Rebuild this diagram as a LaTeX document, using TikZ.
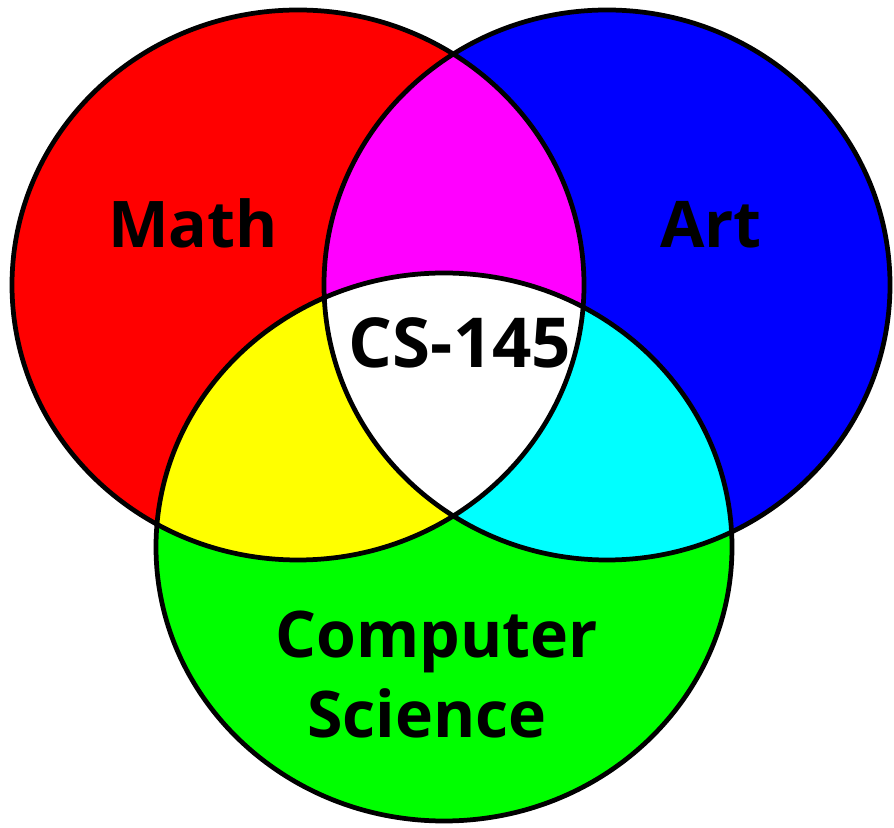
\documentclass[tikz,border=0pt]{standalone}
\usepackage{fontspec}
\setmainfont{Open Sans}
\begin{document}
\begin{tikzpicture}[x=0.01cm,y=-0.01cm]
\tikzset{
  lbl/.style={font=\fontsize{18.3}{20}\selectfont\bfseries, anchor=base, inner sep=0pt, text=black},
  biglbl/.style={lbl, font=\fontsize{19.6}{21}\selectfont\bfseries},
  outline/.style={draw=black, line width=1.35pt}
}
\definecolor{cred}{RGB}{255,0,0}
\definecolor{cblue}{RGB}{0,0,255}
\definecolor{cgreen}{RGB}{0,255,0}
\definecolor{cmag}{RGB}{255,0,255}
\definecolor{cyel}{RGB}{255,255,0}
\definecolor{ccyan}{RGB}{0,255,255}
\useasboundingbox (0,0) rectangle (894,828);
% base fills
\fill[cred] (298,285) ellipse [x radius=286, y radius=275];
\fill[cblue] (607,285) ellipse [x radius=283, y radius=275];
\fill[cgreen] (444,547) ellipse [x radius=288, y radius=274];
% red & blue
\begin{scope}
\clip (298,285) ellipse [x radius=286, y radius=275];
\fill[cmag] (607,285) ellipse [x radius=283, y radius=275];
\end{scope}
% red & green
\begin{scope}
\clip (298,285) ellipse [x radius=286, y radius=275];
\fill[cyel] (444,547) ellipse [x radius=288, y radius=274];
\end{scope}
% blue & green
\begin{scope}
\clip (607,285) ellipse [x radius=283, y radius=275];
\fill[ccyan] (444,547) ellipse [x radius=288, y radius=274];
\end{scope}
% all three
\begin{scope}
\clip (298,285) ellipse [x radius=286, y radius=275];
\clip (607,285) ellipse [x radius=283, y radius=275];
\fill[white] (444,547) ellipse [x radius=288, y radius=274];
\end{scope}
% outlines
\draw[outline] (298,285) ellipse [x radius=286, y radius=275];
\draw[outline] (607,285) ellipse [x radius=283, y radius=275];
\draw[outline] (444,547) ellipse [x radius=288, y radius=274];
% labels
\node[lbl] (math) at (193,248) {Math};
\node[lbl] (art) at (711,248) {Art};
\node[biglbl] (cs) at (460,368) {CS-145};
\node[lbl] (comp) at (437,657) {Computer};
\node[lbl] (sci) at (427,738) {Science};
\end{tikzpicture}
\end{document}
